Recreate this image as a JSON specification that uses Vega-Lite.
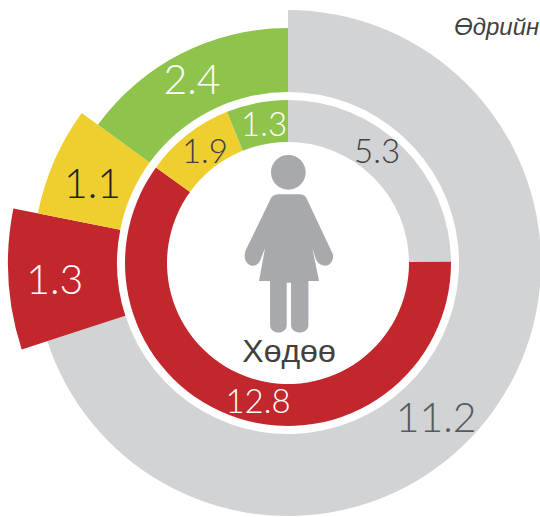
{
"$schema":"https://vega.github.io/schema/vega-lite/v6.json",
"width":540,"height":517,"padding":0,"autosize":"none","background":"white",
"config":{"view":{"stroke":null}},
"datasets":{"rings":[
{"id":1,"ring":"outer","category":"gray","value":11.2,"seq":1},
{"id":2,"ring":"outer","category":"red","value":1.3,"seq":2},
{"id":3,"ring":"outer","category":"yellow","value":1.1,"seq":3},
{"id":4,"ring":"outer","category":"green","value":2.4,"seq":4},
{"id":5,"ring":"inner","category":"gray","value":5.3,"seq":1},
{"id":6,"ring":"inner","category":"red","value":12.8,"seq":2},
{"id":7,"ring":"inner","category":"yellow","value":1.9,"seq":3},
{"id":8,"ring":"inner","category":"green","value":1.3,"seq":4}
]},
"layer":[
{"data":{"name":"rings"},"transform":[{"filter":"datum.ring==='outer'"},{"stack":"value","sort":[{"field":"seq","order":"ascending"}],"as":["start","end"]}],
 "mark":{"type":"arc","x":288,"y":263,"radius2":171},
 "encoding":{
  "theta":{"field":"start","type":"quantitative","stack":null,"scale":{"domain":[0,16]}},
  "theta2":{"field":"end"},
  "radius":{"field":"seq","type":"quantitative","scale":{"domain":[1,2,3,4],"range":[253,280,255,235]}},
  "color":{"field":"category","type":"nominal","scale":{"domain":["gray","red","yellow","green"],"range":["#D1D3D4","#C1272D","#EFCE2F","#8FC44C"]},"legend":null}
 }},
{"data":{"name":"rings"},"transform":[{"filter":"datum.ring==='inner'"}],
 "mark":{"type":"arc","x":288,"y":263,"radius":163,"radius2":121},
 "encoding":{
  "theta":{"field":"value","type":"quantitative","stack":true},
  "order":{"field":"seq","type":"quantitative"},
  "color":{"field":"category","type":"nominal","scale":{"domain":["gray","red","yellow","green"],"range":["#D1D3D4","#C1272D","#EFCE2F","#8FC44C"]},"legend":null}
 }},
{"data":{"name":"rings"},
 "mark":{"type":"text","x":288,"y":263,"font":"Lato","fontWeight":300,"align":"center","baseline":"middle"},
 "encoding":{
  "theta":{"field":"id","type":"quantitative","scale":{"domain":[1,2,3,4,5,6,7,8],"range":[2.386,4.63,5.087,5.796,0.681,3.353,5.637,6.11]}},
  "radius":{"field":"id","type":"quantitative","scale":{"domain":[1,2,3,4,5,6,7,8],"range":[216,234,210,205,141.5,143,138,139]}},
  "text":{"field":"value","type":"quantitative","format":".1f"},
  "size":{"field":"ring","type":"nominal","scale":{"domain":["outer","inner"],"range":[41,33]},"legend":null},
  "color":{"field":"id","type":"nominal","scale":{"domain":[1,2,3,4,5,6,7,8],"range":["#58595B","#FFFFFF","#231F20","#FFFFFF","#414042","#FFFFFF","#414042","#FFFFFF"]},"legend":null}
 }},
{"data":{"values":[{"label":"Хөдөө"}]},
 "layer":[
 {"mark":{"type":"point","x":288.7,"y":245,"filled":true,"opacity":1,"size":32400,"color":"#A7A9AC","shape":"M -0.197 -0.807 A 0.193 0.193 0 1 1 0.189 -0.807 A 0.193 0.193 0 1 1 -0.197 -0.807 Z M -0.115 -0.563 L 0.126 -0.563 Q 0.185 -0.56 0.207 -0.5 L 0.478 0.074 C 0.515 0.13 0.48 0.23 0.404 0.23 C 0.35 0.23 0.31 0.19 0.293 0.13 L 0.263 0.037 L 0.337 0.4 L 0.219 0.4 L 0.219 0.889 C 0.219 1 0.026 1 0.026 0.889 L 0.026 0.419 L -0.022 0.419 L -0.022 0.889 C -0.022 1 -0.207 1 -0.207 0.889 L -0.207 0.4 L -0.33 0.4 L -0.263 0.037 L -0.3 0.13 C -0.32 0.19 -0.35 0.23 -0.393 0.23 C -0.47 0.23 -0.52 0.14 -0.467 0.037 L -0.207 -0.5 Q -0.185 -0.56 -0.115 -0.563 Z"},"encoding":{}},
 {"mark":{"type":"text","x":289,"y":352,"font":"Liberation Sans","fontSize":32,"align":"center","baseline":"middle","color":"#414042"},"encoding":{"text":{"field":"label","type":"nominal"}}}
 ]},
{"data":{"values":[{"label":"Өдрийн"}]},
 "mark":{"type":"text","x":454,"y":35,"font":"Liberation Sans","fontStyle":"italic","fontSize":24,"align":"left","baseline":"alphabetic","color":"#414042"},
 "encoding":{"text":{"field":"label","type":"nominal"}}}
],
"resolve":{"scale":{"theta":"independent","radius":"independent","color":"independent","size":"independent"}}
}
